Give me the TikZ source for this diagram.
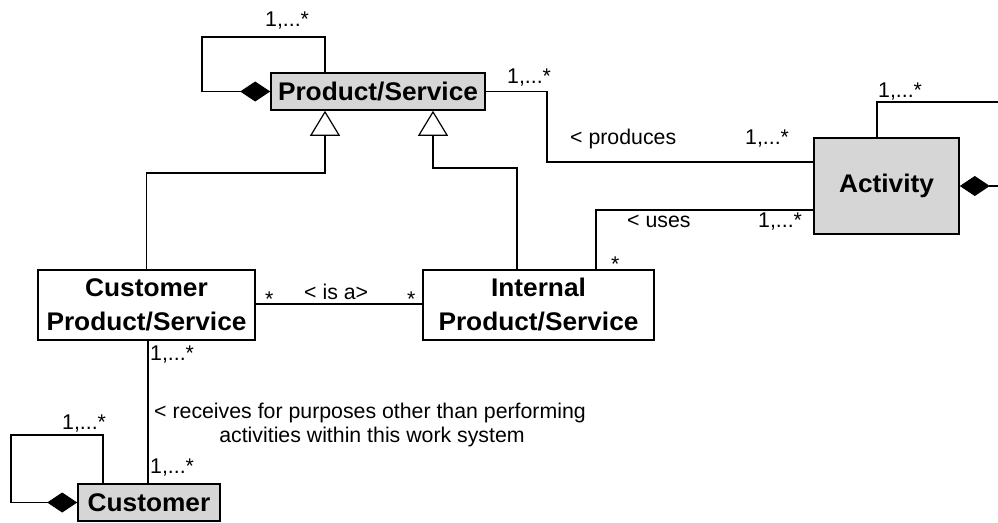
\documentclass[tikz,border=0pt]{standalone}
\usepackage{fontspec}
\setmainfont{Liberation Sans}[BoldFeatures={FakeStretch=1.03}]
\usetikzlibrary{arrows.meta}
\definecolor{boxgray}{RGB}{214,214,214}
\begin{document}
\begin{tikzpicture}[x=1pt,y=-1pt,
  cls/.style={draw, line width=1.6pt, inner sep=0pt, align=center,
    font=\fontsize{25.5}{34}\selectfont\bfseries},
  conn/.style={line width=1.2pt},
  lbl/.style={inner sep=0pt, anchor=base west, font=\fontsize{21.3}{25}\selectfont},
  comp/.style={-{Diamond[length=30pt,width=20pt]}},
  gen/.style={-{Triangle[open,length=25pt,width=30pt,fill=white]}}
]
\useasboundingbox (0,0) rectangle (998,522);

% classes
\node[cls, fill=boxgray, minimum width=214pt, minimum height=37pt] (ps) at (378,91.5) {Product/Service};
\node[cls, fill=boxgray, minimum width=145pt, minimum height=96pt] (act) at (886.5,186) {Activity};
\node[cls, minimum width=217pt, minimum height=70pt] (cps) at (146.5,305) {Customer\\Product/Service};
\node[cls, minimum width=231pt, minimum height=70pt] (ips) at (538.5,305) {Internal\\Product/Service};
\node[cls, fill=boxgray, minimum width=142pt, minimum height=37pt] (cust) at (149,502.5) {Customer};

% free ends of the Activity self-association (run off the page)
\coordinate (actloop) at (1010,102);
\coordinate (actcomp) at (1010,186);

% composition self-associations
\draw[conn, comp] ([xshift=-53pt]ps.north) |- (202,37) |- (ps.west);
\draw[conn] ([xshift=-9.5pt]act.north) |- (actloop);
\draw[conn, comp] (actcomp) -- (act.east);
\draw[conn, comp] ([xshift=-46pt]cust.north) |- (11,435) |- (cust.west);

% generalizations
\draw[conn, gen] (cps.north) |- (325,173) -- ([xshift=-53pt]ps.south);
\draw[conn, gen] ([xshift=-21.5pt]ips.north) |- (433,168) -- ([xshift=55pt]ps.south);

% associations
\draw[conn] (ps.east) -| (547,162) -- ([yshift=24pt]act.west);
\draw[conn] ([yshift=-24pt]act.west) -| ([xshift=57.5pt]ips.north);
\draw[conn] ([yshift=1pt]cps.east) -- ([yshift=1pt]ips.west);
\draw[conn] ([xshift=1.5pt]cps.south) -- ([xshift=-1pt]cust.north);

% multiplicities and role names
\node[lbl] (m1) at (265,26) {1,...*};
\node[lbl] (m2) at (507,83) {1,...*};
\node[lbl] (r1) at (570,144) {< produces};
\node[lbl] (m3) at (745,144) {1,...*};
\node[lbl] (m4) at (878,97) {1,...*};
\node[lbl] (r2) at (627,227) {< uses};
\node[lbl] (m5) at (758,227) {1,...*};
\node[lbl] (m6) at (611,271) {*};
\node[lbl] (m7) at (265,306) {*};
\node[lbl] (r3) at (304,299) {< is a>};
\node[lbl] (m8) at (407,306) {*};
\node[lbl] (m9) at (150,360) {1,...*};
\node[lbl, anchor=base] (r4a) at (370,418) {< receives for purposes other than performing};
\node[lbl, anchor=base] (r4b) at (372,442) {activities within this work system};
\node[lbl] (m10) at (150,473) {1,...*};
\node[lbl] (m11) at (62,429) {1,...*};
\end{tikzpicture}
\end{document}
